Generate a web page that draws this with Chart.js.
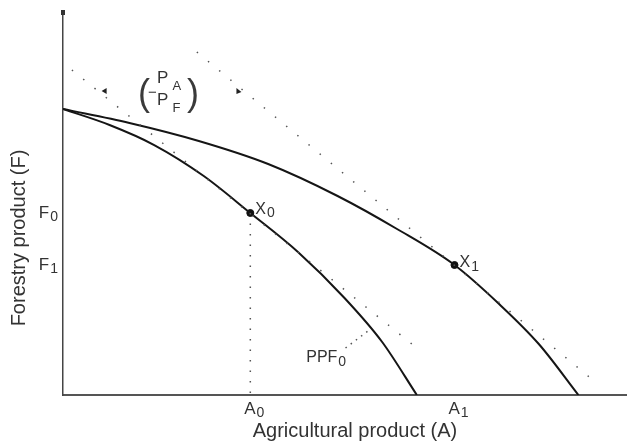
<!DOCTYPE html>
<html lang="en">
<head>
<meta charset="UTF-8">
<title>Production possibility frontiers</title>
<script src="https://cdn.jsdelivr.net/npm/chart.js"></script>
<style>
  body { margin: 0; background: #fff; }
  #wrap { width: 631px; height: 443px; }
</style>
</head>
<body>
<div id="wrap"><canvas id="ppf"></canvas></div>
<script>
// data, axes run 0..100 in both directions
var ppf0X = [0, 8.27, 16.2, 25.0, 33.27, 41.73, 50.0, 56.69, 62.85];
var ppf0Y = [74.67, 70.5, 65.27, 57.18, 47.52, 37.34, 25.33, 13.84, 0];
var ppf1X = [0, 11.8, 24.12, 36.44, 48.77, 59.33, 69.54, 77.46, 84.51, 91.55];
var ppf1Y = [74.67, 71.02, 66.32, 60.31, 51.96, 43.34, 33.94, 23.76, 13.32, 0];

// dotted price lines (tangents at X0 and X1)
var priceLine0X = [1.58, 62.85];
var priceLine0Y = [84.86, 12.27];
var priceLine1X = [23.77, 94.54];
var priceLine1Y = [89.56, 3.39];

// equilibrium points
var pointNames = ['X', 'X'];
var pointSubs = ['0', '1'];
var pointX = [33.27, 69.54];
var pointY = [47.52, 33.94];

// tick labels
var xTickValues = [33.27, 69.54];
var xTickLabels = [['A', '0'], ['A', '1']];
var yTickValues = [47.52, 33.94];
var yTickLabels = [['F', '0'], ['F', '1']];

function pairs(xs, ys) {
    return xs.map(function(v, i) { return {x: v, y: ys[i]}; });
}

// text with a lowered subscript
function drawSub(ctx, base, sub, x, y, size, subSize, drop, gap) {
    gap = gap || 1;
    ctx.font = size + 'px "Liberation Sans", Arial, sans-serif';
    ctx.fillText(base, x, y);
    var w = ctx.measureText(base).width;
    ctx.font = subSize + 'px "Liberation Sans", Arial, sans-serif';
    ctx.fillText(sub, x + w + gap, y + drop);
    return w + gap + ctx.measureText(sub).width;
}

function subWidth(ctx, base, sub, size, subSize) {
    ctx.font = size + 'px "Liberation Sans", Arial, sans-serif';
    var w = ctx.measureText(base).width;
    ctx.font = subSize + 'px "Liberation Sans", Arial, sans-serif';
    return w + 1 + ctx.measureText(sub).width;
}

var labelsPlugin = {
    id: 'labelsPlugin',
    afterDraw: function(chart) {
        var ctx = chart.ctx;
        var sx = chart.scales.x, sy = chart.scales.y;
        var area = chart.chartArea;
        ctx.save();
        ctx.fillStyle = '#333';
        ctx.textBaseline = 'alphabetic';
        ctx.textAlign = 'left';

        // little cap on top of the vertical axis
        ctx.fillRect(sx.getPixelForValue(0) - 2, area.top - 2, 4, 5);

        // tick labels
        xTickValues.forEach(function(v, i) {
            var w = subWidth(ctx, xTickLabels[i][0], xTickLabels[i][1], 17, 14);
            drawSub(ctx, xTickLabels[i][0], xTickLabels[i][1], sx.getPixelForValue(v) - w / 2 + 4, area.bottom + 19, 17, 14, 3);
        });
        yTickValues.forEach(function(v, i) {
            var w = subWidth(ctx, yTickLabels[i][0], yTickLabels[i][1], 17, 14);
            drawSub(ctx, yTickLabels[i][0], yTickLabels[i][1], area.left - 5 - w, sy.getPixelForValue(v) + 5, 17, 14, 3);
        });

        // point names
        drawSub(ctx, pointNames[0], pointSubs[0], sx.getPixelForValue(pointX[0]) + 5, sy.getPixelForValue(pointY[0]) + 1, 16, 14, 3);
        drawSub(ctx, pointNames[1], pointSubs[1], sx.getPixelForValue(pointX[1]) + 5, sy.getPixelForValue(pointY[1]) + 2, 16, 14, 4);

        // PPF0 label
        drawSub(ctx, 'PPF', '0', sx.getPixelForValue(43.2), sy.getPixelForValue(8.6), 16, 14, 4);

        // price ratio label (-PA/PF)
        var cx = sx.getPixelForValue(18.84), cy = sy.getPixelForValue(79.11);
        ctx.fillStyle = '#3a3a3a';
        ctx.font = '36px "Liberation Sans", Arial, sans-serif';
        ctx.fillText('(', cx - 31, cy + 13);
        ctx.fillText(')', cx + 18, cy + 13);
        ctx.fillStyle = '#333';
        ctx.font = '15px "Liberation Sans", Arial, sans-serif';
        ctx.fillText('\u2212', cx - 21, cy + 5);
        drawSub(ctx, 'P', 'A', cx - 12, cy - 9, 17, 13, 7, 4);
        drawSub(ctx, 'P', 'F', cx - 12, cy + 13, 17, 13, 7, 4);

        // arrow heads either side of the ratio label
        ctx.fillStyle = '#222';
        var ax = sx.getPixelForValue(7.39), ay = sy.getPixelForValue(79.37);
        ctx.beginPath();
        ctx.moveTo(ax - 3, ay);
        ctx.lineTo(ax + 2, ay - 3);
        ctx.lineTo(ax + 2, ay + 3);
        ctx.closePath();
        ctx.fill();
        var bx = sx.getPixelForValue(31.16), by = sy.getPixelForValue(79.37);
        ctx.beginPath();
        ctx.moveTo(bx + 3, by + 1);
        ctx.lineTo(bx - 2, by - 3);
        ctx.lineTo(bx - 2, by + 3);
        ctx.closePath();
        ctx.fill();

        // axis titles
        ctx.fillStyle = '#333';
        ctx.font = '20px "Liberation Sans", Arial, sans-serif';
        ctx.textAlign = 'center';
        ctx.textBaseline = 'middle';
        ctx.fillText('Agricultural product (A)', 355, 431);
        ctx.translate(19, 238);
        ctx.rotate(-Math.PI / 2);
        ctx.fillText('Forestry product (F)', 0, 0);
        ctx.restore();
    }
};

var dotted = {
    borderColor: '#555',
    borderWidth: 1.5,
    borderDash: [1.5, 13],
    pointRadius: 0,
    fill: false
};

var chart = new Chart(document.getElementById('ppf'), {
    type: 'line',
    data: {
        datasets: [
            Object.assign({label: 'price line 0', data: pairs(priceLine0X, priceLine0Y)}, dotted),
            Object.assign({label: 'price line 1', data: pairs(priceLine1X, priceLine1Y)}, dotted),
            Object.assign({label: 'A0 drop', data: [{x: pointX[0], y: pointY[0]}, {x: pointX[0], y: 0}]}, dotted, {borderDash: [1.5, 9]}),
            Object.assign({label: 'PPF0 leader', data: [{x: 50.18, y: 12.27}, {x: 54.4, y: 16.97}]}, dotted, {borderDash: [1.5, 5]}),
            {
                label: 'PPF0',
                data: pairs(ppf0X, ppf0Y),
                borderColor: '#151515',
                borderWidth: 2,
                pointRadius: 0,
                cubicInterpolationMode: 'monotone',
                fill: false
            },
            {
                label: 'PPF1',
                data: pairs(ppf1X, ppf1Y),
                borderColor: '#151515',
                borderWidth: 2,
                pointRadius: 0,
                cubicInterpolationMode: 'monotone',
                fill: false
            },
            {
                label: 'points',
                data: pairs(pointX, pointY),
                showLine: false,
                pointRadius: 3.5,
                pointBackgroundColor: '#111',
                pointBorderColor: '#111'
            }
        ]
    },
    options: {
        responsive: true,
        maintainAspectRatio: false,
        animation: false,
        layout: { padding: { top: 12, left: 0, right: 0, bottom: 0 } },
        plugins: {
            legend: { display: false },
            tooltip: { enabled: false }
        },
        scales: {
            x: {
                type: 'linear',
                min: 0,
                max: 100,
                grid: { display: false },
                ticks: { display: false },
                border: { color: '#555', width: 2 },
                afterFit: function(scale) { scale.height = 48; }
            },
            y: {
                type: 'linear',
                min: 0,
                max: 100,
                grid: { display: false },
                ticks: { display: false },
                border: { color: '#444', width: 1.5 },
                afterFit: function(scale) { scale.width = 63; }
            }
        }
    },
    plugins: [labelsPlugin]
});
</script>
</body>
</html>
